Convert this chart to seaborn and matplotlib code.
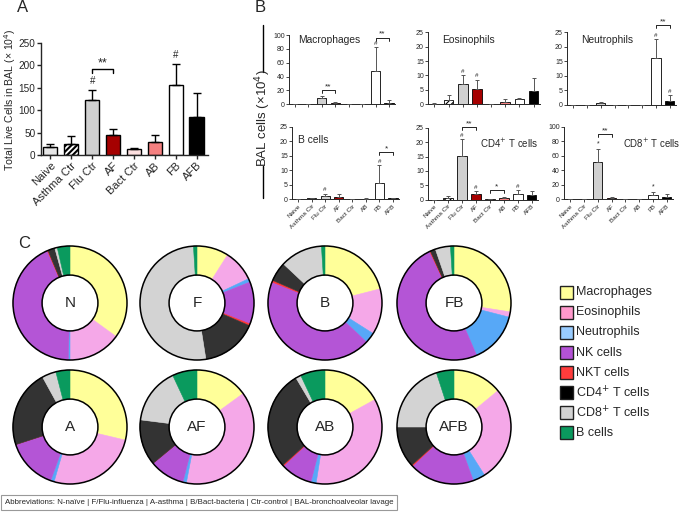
import numpy as np
import pandas as pd
import seaborn as sns
import matplotlib
matplotlib.use("Agg")
import matplotlib.pyplot as plt
from matplotlib.patches import Rectangle, Circle
from matplotlib.lines import Line2D

# ---------------- data ----------------
groups = ["Naive", "Asthma Ctr", "Flu Ctr", "AF", "Bact Ctr", "AB", "FB", "AFB"]
bar_colors = ["#e6e6e6", "#ffffff", "#d0d0d0", "#a50000", "#fde0e0", "#f58080", "#ffffff", "#000000"]

total_mean = [17, 25, 122, 44, 14, 28, 157, 85]
total_sd = [8, 17, 24, 14, 2, 16, 46, 54]

mac_mean = [0.5, 0.5, 9.5, 2.0, 0.3, 0.5, 48, 2.5]
mac_sd = [0.3, 0.4, 3.0, 2.0, 0.2, 0.3, 34, 3.5]
eos_mean = [0.2, 1.5, 7.0, 5.2, 0.1, 0.7, 1.7, 4.5]
eos_sd = [0.1, 1.6, 3.2, 3.4, 0.05, 1.0, 0.5, 4.5]
neu_mean = [0.1, 0.1, 0.7, 0.1, 0.05, 0.1, 16.1, 1.5]
neu_sd = [0.05, 0.05, 0.3, 0.05, 0.05, 0.05, 6.5, 1.8]
bc_mean = [0.1, 0.3, 1.3, 0.9, 0.05, 0.2, 5.5, 0.4]
bc_sd = [0.05, 0.2, 0.7, 0.8, 0.05, 0.1, 6.2, 0.2]
cd4_mean = [0.0, 0.5, 15.3, 1.8, 0.1, 0.5, 1.9, 1.6]
cd4_sd = [0.0, 0.7, 5.7, 1.1, 0.05, 0.5, 1.3, 1.4]
cd8_mean = [0.0, 0.0, 52, 2.0, 0.3, 0.0, 6.5, 3.5]
cd8_sd = [0.0, 0.0, 18, 1.5, 0.2, 0.0, 4.0, 4.5]

cell_types = ["Macrophages", "Eosinophils", "Neutrophils", "NK cells", "NKT cells",
              "CD4$^{+}$ T cells", "CD8$^{+}$ T cells", "B cells"]
donut_colors = ["#ffff99", "#f5a8e8", "#57a8f7", "#b455d6", "#ff3333", "#333333", "#d3d3d3", "#0a9a5e"]
legend_colors = ["#ffff99", "#ff99cc", "#99ccff", "#b452d6", "#ff3c3c", "#000000", "#d3d3d3", "#0a9a5e"]

donut_names = ["N", "F", "B", "FB", "A", "AF", "AB", "AFB"]
comp_N = [35, 15, 0.5, 43, 0.2, 2, 0.7, 3.6]
comp_F = [9, 9, 1, 12, 0.5, 16, 51.5, 1]
comp_B = [21, 13, 3, 44, 0.5, 5.5, 12, 1]
comp_FB = [27.5, 1.5, 14.5, 49.5, 0.2, 1.5, 4.3, 1]
comp_A = [28.7, 25.8, 1, 14.5, 0, 22, 4, 4]
comp_AF = [15, 38, 1, 10, 0, 13, 16, 7]
comp_AB = [17, 35.5, 1.5, 9, 0.3, 28.2, 1.5, 7]
comp_AFB = [14, 27, 3.5, 18.5, 0.3, 11.7, 20, 5]

# ---------------- style ----------------
sns.set_style("ticks")
plt.rcParams["font.family"] = ["Liberation Sans", "DejaVu Sans"]
plt.rcParams["axes.linewidth"] = 1.0

W, H = 685, 514
fig = plt.figure(figsize=(W / 100, H / 100), dpi=100)


def fx(px):
    return px / W


def fy(py):
    return 1 - py / H


def add_ax(left, right, top, bottom):
    return fig.add_axes([fx(left), fy(bottom), (right - left) / W, (bottom - top) / H])


def draw_bars(ax, mean, sd, lw, elw, cap, ecol):
    df = pd.DataFrame({"group": groups, "value": mean})
    sns.barplot(data=df, x="group", y="value", hue="group", palette=bar_colors,
                legend=False, ax=ax, width=0.68, edgecolor="black", linewidth=lw,
                saturation=1, errorbar=None)
    ax.patches[1].set_hatch("//////")
    ax.errorbar(np.arange(len(groups)), mean, yerr=[np.zeros(len(groups)), sd],
                fmt="none", ecolor=ecol, elinewidth=elw, capsize=cap, capthick=elw, zorder=3)
    sns.despine(ax=ax)
    ax.set_xlabel("")
    ax.set_ylabel("")


def bracket(ax, x1, x2, y, drop, text, fs, lw):
    ax.plot([x1, x1, x2, x2], [y - drop, y, y, y - drop], color="black", lw=lw, clip_on=False)
    ax.text((x1 + x2) / 2, y, text, ha="center", va="bottom", fontsize=fs, clip_on=False)


# ---------------- panel A ----------------
axA = add_ax(41, 208, 43, 155)
plt.rcParams["hatch.linewidth"] = 1.5
draw_bars(axA, total_mean, total_sd, 1.0, 1.0, 3, "black")
axA.set_ylim(0, 250)
axA.set_xlim(-0.45, 7.55)
axA.set_yticks([0, 50, 100, 150, 200, 250])
axA.tick_params(axis="y", labelsize=7.2, length=3, width=1, pad=1)
axA.tick_params(axis="x", labelsize=8, length=3, width=1, pad=1)
axA.set_xticks(range(8))
axA.set_xticklabels(groups, rotation=45, ha="right", rotation_mode="anchor")
axA.set_ylabel("Total Live Cells in BAL (× 10$^{4}$)", fontsize=7.6)
axA.yaxis.set_label_coords(-0.14, 0.49)
bracket(axA, 2, 3, 192, 9, "**", 9, 1.0)
axA.text(2, 155, "#", ha="center", va="bottom", fontsize=7)
axA.text(6, 212, "#", ha="center", va="bottom", fontsize=7)
fig.text(fx(17), fy(7), "A", fontsize=12, va="center", ha="left")

# ---------------- panel B ----------------
plt.rcParams["hatch.linewidth"] = 0.8
small = [
    ("Macrophages", mac_mean, mac_sd, (289, 395, 35, 104.3), 100, 20, False),
    ("Eosinophils", eos_mean, eos_sd, (428, 540, 32.3, 104.3), 25, 5, False),
    ("Neutrophils", neu_mean, neu_sd, (567, 676, 32.3, 105), 25, 5, False),
    ("B cells", bc_mean, bc_sd, (292, 399, 127, 199.3), 25, 5, True),
    ("CD4$^{+}$ T cells", cd4_mean, cd4_sd, (428, 538, 128, 199.5), 25, 5, True),
    ("CD8$^{+}$ T cells", cd8_mean, cd8_sd, (564, 673, 127, 199.3), 100, 20, True),
]
title_pos = [(298, 40), (442, 40), (581, 40), (298, 140), (480, 143), (623, 143)]
title_fs = [7.4, 7.4, 7.4, 7.4, 7.0, 6.9]
axes_B = []
for (title, m, s, box, ymax, step, xl), tp, tfs in zip(small, title_pos, title_fs):
    ax = add_ax(*box)
    draw_bars(ax, m, s, 0.6, 0.7, 1.5, "#555555")
    ax.set_ylim(0, ymax)
    ax.set_xlim(-0.45, 7.45)
    ax.set_yticks(np.arange(0, ymax + 0.1, step))
    ax.tick_params(axis="both", labelsize=5, length=2, width=0.6, pad=1)
    for sp in ax.spines.values():
        sp.set_linewidth(0.7)
    ax.set_xticks(range(8))
    if xl:
        ax.set_xticklabels(groups, rotation=45, ha="right", rotation_mode="anchor", fontsize=4.6)
    else:
        ax.set_xticklabels([])
    fig.text(fx(tp[0]), fy(tp[1]), title, fontsize=tfs, ha="left", va="center")
    axes_B.append(ax)

axM, axE, axN, axBc, ax4, ax8 = axes_B
bracket(axM, 2, 3, 20, 4, "**", 6, 0.6)
bracket(axM, 6, 7, 96, 4, "**", 6, 0.6)
axM.text(6, 84, "#", ha="center", va="bottom", fontsize=4.5)
axE.text(2, 10.6, "#", ha="center", va="bottom", fontsize=4.5)
axE.text(3, 9.0, "#", ha="center", va="bottom", fontsize=4.5)
bracket(axN, 6, 7, 27.4, 1, "**", 6, 0.6)
axN.text(6, 23.0, "#", ha="center", va="bottom", fontsize=4.5)
axN.text(7, 3.8, "#", ha="center", va="bottom", fontsize=4.5)
bracket(axBc, 6, 7, 16.2, 1, "*", 6, 0.6)
axBc.text(6, 12.2, "#", ha="center", va="bottom", fontsize=4.5)
axBc.text(2, 2.4, "#", ha="center", va="bottom", fontsize=4.5)
bracket(ax4, 2, 3, 25.3, 1, "**", 6, 0.6)
ax4.text(2, 21.6, "#", ha="center", va="bottom", fontsize=4.5)
ax4.text(3, 3.4, "#", ha="center", va="bottom", fontsize=4.5)
ax4.text(6, 3.7, "#", ha="center", va="bottom", fontsize=4.5)
bracket(ax4, 4, 5, 3.2, 1, "*", 6, 0.6)
bracket(ax8, 2, 3, 90, 4, "**", 6, 0.6)
ax8.text(2, 72, "*", ha="center", va="bottom", fontsize=5)
ax8.text(6, 12, "*", ha="center", va="bottom", fontsize=5)

fig.text(fx(255), fy(7), "B", fontsize=12, va="center", ha="left")
fig.text(fx(263), fy(118), "BAL cells (×10$^{4}$)", rotation=90, fontsize=9.5,
         ha="center", va="center")
fig.add_artist(Line2D([fx(263), fx(263)], [fy(25), fy(72)], color="black", lw=1.0))
fig.add_artist(Line2D([fx(263), fx(263)], [fy(166), fy(198)], color="black", lw=1.0))

# ---------------- panel C ----------------
fig.text(fx(18), fy(243), "C", fontsize=12, va="center", ha="left")
comps = [comp_N, comp_F, comp_B, comp_FB, comp_A, comp_AF, comp_AB, comp_AFB]
centers = [(70, 303), (197, 303), (325, 303), (454, 303),
           (70, 427), (197, 427), (325, 427), (454, 427)]
R = 57
for name, vals, (cx, cy) in zip(donut_names, comps, centers):
    ax = fig.add_axes([fx(cx - 60), fy(cy + 60), 120 / W, 120 / H])
    wedges, _ = ax.pie(vals, colors=donut_colors, startangle=90, counterclock=False,
                       radius=1, wedgeprops=dict(width=0.51, linewidth=0.4))
    for w in wedges:
        w.set_edgecolor(w.get_facecolor())
    ax.add_patch(Circle((0, 0), 1, fill=False, edgecolor="black", lw=1.1))
    ax.add_patch(Circle((0, 0), 0.49, fill=False, edgecolor="black", lw=1.1))
    ax.text(0, 0, name, ha="center", va="center", fontsize=11)
    lim = 60 / R
    ax.set_xlim(-lim, lim)
    ax.set_ylim(-lim, lim)
    ax.set_aspect("equal")
    ax.axis("off")

# legend
for i, (lab, col) in enumerate(zip(cell_types, legend_colors)):
    yc = 292.5 + 20 * i
    fig.add_artist(Rectangle((fx(560), fy(yc + 6.5)), 13 / W, 13 / H, transform=fig.transFigure,
                             facecolor=col, edgecolor="#222222", lw=1.0))
    fig.text(fx(576), fy(yc), lab, fontsize=9, ha="left", va="center")

fig.text(fx(5), fy(502.5),
         "Abbreviations: N-naïve | F/Flu-influenza | A-asthma | B/Bact-bacteria | Ctr-control | BAL-bronchoalveolar lavage",
         fontsize=5.7, ha="left", va="center",
         bbox=dict(boxstyle="square,pad=0.45", fc="white", ec="#999999", lw=0.8))

fig.savefig("out.png", dpi=100)
